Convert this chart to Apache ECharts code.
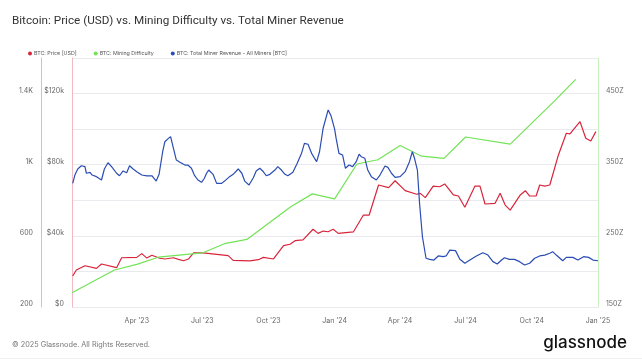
<!DOCTYPE html>
<html>
<head>
<meta charset="utf-8">
<script src="https://cdn.jsdelivr.net/npm/echarts@6/dist/echarts.min.js"></script>
<style>
html,body{margin:0;padding:0;background:#fff;}
#chart{width:642px;height:361px;}
</style>
</head>
<body>
<div id="chart"></div>
<script>
// ---- data ----
const titleText = 'Bitcoin: Price (USD) vs. Mining Difficulty vs. Total Miner Revenue';
const seriesNames = ['BTC: Price [USD]', 'BTC: Mining Difficulty', 'BTC: Total Miner Revenue - All Miners [BTC]'];

const xTickDates = ['2023-04-01','2023-07-01','2023-10-01','2024-01-01','2024-04-01','2024-07-01','2024-10-01','2025-01-01'];
const xTickLabels = ["Apr '23","Jul '23","Oct '23","Jan '24","Apr '24","Jul '24","Oct '24","Jan '25"];

// price in USD
const price = [
['2023-01-02',17400],['2023-01-07',20800],['2023-01-19',23200],['2023-02-04',21700],['2023-02-11',24200],
['2023-03-04',22100],['2023-03-11',27700],['2023-04-01',27900],['2023-04-08',30000],['2023-04-15',27500],
['2023-04-22',29100],['2023-05-03',27400],['2023-05-10',27000],['2023-05-22',27700],['2023-05-29',26800],
['2023-06-05',26000],['2023-06-12',27000],['2023-06-19',30400],['2023-07-02',30400],['2023-07-12',30000],
['2023-08-06',28900],['2023-08-13',26200],['2023-09-05',25900],['2023-09-17',26600],['2023-09-24',27900],
['2023-10-08',27000],['2023-10-22',34500],['2023-10-31',35300],['2023-11-07',37300],['2023-11-18',37700],
['2023-12-02',43700],['2023-12-09',41400],['2023-12-16',42700],['2023-12-23',42300],['2023-12-30',43700],
['2024-01-06',41400],['2024-01-27',42200],['2024-02-10',51700],['2024-02-18',51700],['2024-03-02',68600],
['2024-03-16',67100],['2024-03-25',71000],['2024-04-08',65400],['2024-04-24',63400],['2024-04-29',63900],
['2024-05-06',61500],['2024-05-17',68000],['2024-05-26',67600],['2024-06-02',69200],['2024-06-14',63000],
['2024-06-21',62400],['2024-06-30',56100],['2024-07-14',68000],['2024-07-21',68000],['2024-07-28',57900],
['2024-08-11',58300],['2024-08-18',63900],['2024-08-25',57300],['2024-09-01',54500],['2024-09-15',63000],
['2024-09-22',65400],['2024-09-28',62400],['2024-10-07',62400],['2024-10-12',68600],['2024-10-19',68000],
['2024-10-26',68600],['2024-11-07',85500],['2024-11-18',97700],['2024-11-23',97300],['2024-12-07',104200],
['2024-12-15',94900],['2024-12-22',93300],['2024-12-29',98600]
];

// mining difficulty (Z)
const difficulty = [
['2023-01-01',170],['2023-03-01',202],['2023-04-01',210],['2023-05-01',220],['2023-07-01',226],
['2023-08-01',239],['2023-09-01',245],['2023-11-01',291],['2023-12-01',309],['2024-01-01',302],
['2024-02-01',351],['2024-03-01',357],['2024-04-01',377],['2024-05-01',362],['2024-06-01',359],
['2024-07-01',389],['2024-09-01',379],['2024-11-01',439],['2024-12-01',470]
];

// total miner revenue (BTC)
const revenue = [
['2023-01-02',895],['2023-01-05',942],['2023-01-09',976],['2023-01-14',994],['2023-01-19',989],['2023-01-21',952],
['2023-01-26',957],['2023-01-29',942],['2023-02-04',933],['2023-02-11',914],['2023-02-15',976],['2023-02-20',1011],
['2023-02-25',989],['2023-03-04',952],['2023-03-08',938],['2023-03-13',965],['2023-03-18',955],['2023-03-22',994],
['2023-03-27',976],['2023-04-01',961],['2023-04-08',942],['2023-04-15',937],['2023-04-22',938],['2023-04-28',908],
['2023-05-02',946],['2023-05-07',1073],['2023-05-10',1129],['2023-05-15',1148],['2023-05-18',1158],['2023-05-22',1092],
['2023-05-26',1026],['2023-05-31',1014],['2023-06-07',998],['2023-06-11',998],['2023-06-16',980],['2023-06-20',942],
['2023-06-25',914],['2023-06-30',901],['2023-07-04',924],['2023-07-07',952],['2023-07-10',970],['2023-07-16',946],
['2023-07-21',895],['2023-07-28',895],['2023-08-01',908],['2023-08-08',933],['2023-08-13',946],['2023-08-20',976],
['2023-08-25',952],['2023-08-29',908],['2023-09-04',886],['2023-09-10',927],['2023-09-14',965],['2023-09-19',980],
['2023-09-23',965],['2023-09-28',938],['2023-10-03',946],['2023-10-10',970],['2023-10-14',989],['2023-10-19',970],
['2023-10-24',946],['2023-10-28',938],['2023-11-04',957],['2023-11-10',1008],['2023-11-16',1064],['2023-11-20',1120],
['2023-11-25',1115],['2023-11-30',1064],['2023-12-04',1036],['2023-12-07',1017],['2023-12-11',1073],['2023-12-16',1205],
['2023-12-23',1308],['2023-12-27',1275],['2024-01-01',1200],['2024-01-03',1149],['2024-01-07',1064],['2024-01-12',1055],
['2024-01-16',980],['2024-01-21',998],['2024-01-26',989],['2024-01-31',1017],['2024-02-04',1059],['2024-02-07',1045],
['2024-02-12',1036],['2024-02-16',970],['2024-02-21',933],['2024-02-28',914],['2024-03-04',942],['2024-03-11',993],
['2024-03-15',985],['2024-03-20',952],['2024-03-25',929],['2024-04-01',933],['2024-04-08',961],['2024-04-14',1017],
['2024-04-18',1073],['2024-04-21',1036],['2024-04-25',970],['2024-04-28',783],['2024-05-02',595],['2024-05-07',474],
['2024-05-12',468],['2024-05-18',464],['2024-05-24',487],['2024-05-31',483],['2024-06-04',487],['2024-06-09',520],
['2024-06-17',517],['2024-06-23',468],['2024-06-30',446],['2024-07-07',464],['2024-07-16',487],['2024-07-25',505],
['2024-08-01',492],['2024-08-08',455],['2024-08-14',442],['2024-08-20',464],['2024-08-24',477],['2024-08-31',468],
['2024-09-07',468],['2024-09-14',455],['2024-09-21',436],['2024-09-28',446],['2024-10-05',474],['2024-10-12',487],
['2024-10-19',492],['2024-10-26',502],['2024-10-30',511],['2024-11-04',492],['2024-11-13',460],['2024-11-18',479],
['2024-11-27',479],['2024-12-04',464],['2024-12-12',483],['2024-12-19',479],['2024-12-25',464],['2025-01-01',460]
];

// ---- chart ----
function ts(s){ const p = s.split('-').map(Number); return Date.UTC(p[0], p[1]-1, p[2]); }
const toSeries = arr => arr.map(d => [ts(d[0]), d[1]]);
const xTicks = xTickDates.map(ts);

const colors = { price:'#d8253c', diff:'#72e356', rev:'#2a4cb3' };
const labelStyle = { color:'#666', fontSize:7, fontFamily:'Inter', verticalAlign:'bottom', lineHeight:6 };

const chart = echarts.init(document.getElementById('chart'), null, {renderer:'canvas'});
chart.setOption({
  animation:false,
  backgroundColor:'#fff',
  title:{ text:titleText, left:7, top:10,
    textStyle:{ fontSize:11.7, fontWeight:'normal', color:'#333', fontFamily:'Roboto' } },
  legend:{ left:23, top:46, icon:'circle', itemWidth:4, itemHeight:4, itemGap:17,
    textStyle:{ fontSize:5.3, color:'#555', fontFamily:'Inter', padding:[0,0,0,-3] },
    data:seriesNames },
  grid:{ left:72, right:44, top:58, bottom:54 },
  xAxis:{ type:'value', min:ts('2023-01-01'), max:ts('2025-01-01'),
    axisLine:{show:false}, axisTick:{show:false}, splitLine:{show:false},
    axisLabel:{ customValues:xTicks, color:'#666', fontSize:7, fontFamily:'Inter', margin:10, hideOverlap:false,
      showMinLabel:true, showMaxLabel:true,
      formatter:v => { const i = xTicks.findIndex(t => Math.abs(t - v) < 86400000); return i >= 0 ? xTickLabels[i] : ''; } } },
  yAxis:[
    { type:'value', position:'left', min:0, max:140000, interval:20000,
      axisLine:{show:true, lineStyle:{color:'#f3b9c2', width:1}}, axisTick:{show:false},
      splitLine:{show:true, lineStyle:{color:'#e9e9ee', width:1}},
      axisLabel:Object.assign({ margin:8, formatter:v => v % 40000 === 0 ? '$' + (v/1000) + (v ? 'k' : '') : '' }, labelStyle) },
    { type:'value', position:'right', min:150, max:500, interval:50,
      axisLine:{show:true, lineStyle:{color:'#c9f1c0', width:1}}, axisTick:{show:false}, splitLine:{show:false},
      axisLabel:Object.assign({ margin:8, formatter:v => (v - 150) % 100 === 0 ? v + 'Z' : '' }, labelStyle) },
    { type:'value', position:'left', offset:31, min:200, max:1600, interval:200,
      axisLine:{show:true, lineStyle:{color:'#b9c6e8', width:1}}, axisTick:{show:false}, splitLine:{show:false},
      axisLabel:Object.assign({ margin:8, formatter:v => (v - 200) % 400 === 0 ? (v >= 1000 ? (v/1000) + 'K' : String(v)) : '' }, labelStyle) }
  ],
  series:[
    { name:seriesNames[0], type:'line', yAxisIndex:0, data:toSeries(price), showSymbol:false, symbol:'circle',
      lineStyle:{color:colors.price, width:1.2}, itemStyle:{color:colors.price} },
    { name:seriesNames[1], type:'line', yAxisIndex:1, data:toSeries(difficulty), showSymbol:false, symbol:'circle',
      lineStyle:{color:colors.diff, width:1.2}, itemStyle:{color:colors.diff} },
    { name:seriesNames[2], type:'line', yAxisIndex:2, data:toSeries(revenue), showSymbol:false, symbol:'circle',
      lineStyle:{color:colors.rev, width:1.2}, itemStyle:{color:colors.rev} }
  ],
  graphic:[
    { type:'text', left:12, top:341, style:{ text:'© 2025 Glassnode. All Rights Reserved.', fill:'#777', fontSize:7.3, fontFamily:'Inter' } },
    { type:'text', right:15, top:334, style:{ text:'glassnode', fill:'#111', fontSize:17, fontFamily:'Inter', fontWeight:500 } },
    { type:'rect', left:0, top:358, shape:{width:642, height:1}, style:{fill:'#f0f0f0'} }
  ]
});
</script>
</body>
</html>
